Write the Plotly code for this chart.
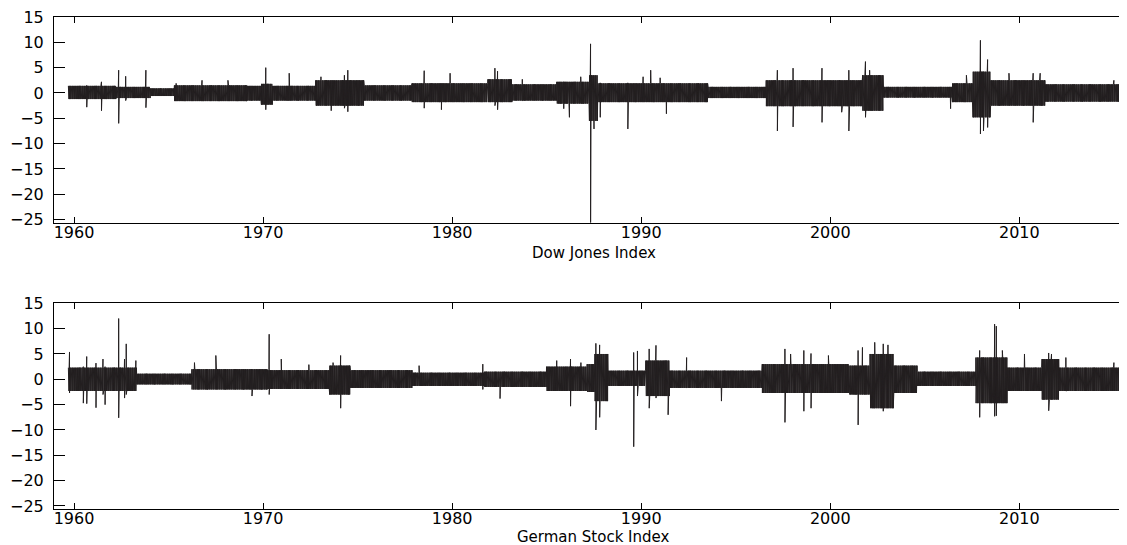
import numpy as np
import plotly.graph_objects as go

# ---------------- Data ----------------
# Dow Jones daily returns (%): band envelope per period (start year, upper, lower)
dj_seg_start = [1959.70, 1962.22, 1964.04, 1965.31, 1969.14, 1969.90, 1970.50, 1972.78,
                1975.33, 1977.88, 1981.89, 1983.17, 1985.53, 1987.25, 1987.69, 1993.52,
                1996.61, 2001.71, 2002.80, 2006.45, 2007.54, 2008.45, 2011.37]
dj_seg_hi = [1.4, 1.2, 0.9, 1.5, 1.4, 1.8, 1.4, 2.5,
             1.5, 1.9, 2.7, 1.7, 2.2, 3.5, 1.9, 1.2,
             2.5, 3.5, 1.2, 1.9, 4.2, 2.5, 1.7]
dj_seg_lo = [-1.2, -1.0, -0.6, -1.6, -1.5, -2.3, -1.5, -2.5,
             -1.5, -1.8, -1.8, -1.5, -2.1, -5.5, -1.8, -1.0,
             -2.6, -3.5, -0.9, -1.8, -4.8, -2.5, -1.7]
dj_end = 2015.40
# Dow Jones individual spikes (year, high, low)
dj_spike_t = [1960.67, 1961.45, 1962.36, 1962.73, 1963.80, 1965.40, 1966.77, 1968.14,
              1970.14, 1971.38, 1973.06, 1973.60, 1974.30, 1974.48, 1978.52, 1979.43,
              1979.89, 1982.26, 1982.40, 1983.71, 1985.90, 1986.20, 1986.80, 1987.32,
              1987.50, 1987.83, 1989.29, 1990.10, 1990.50, 1991.00, 1991.33, 1997.20,
              1998.03, 1999.56, 2000.60, 2000.98, 2001.86, 2002.08, 2002.60, 2006.36,
              2007.20, 2007.94, 2008.10, 2008.32, 2009.45, 2010.73, 2011.10, 2015.00]
dj_spike_hi = [1.5, 2.2, 4.5, 3.3, 4.5, 1.9, 2.5, 2.5,
               5.0, 3.9, 3.2, 2.0, 3.5, 4.5, 4.4, 1.8,
               3.9, 4.9, 4.3, 2.7, 2.0, 2.0, 3.2, 9.7,
               3.5, 2.0, 2.0, 3.2, 4.5, 3.0, 1.8, 4.5,
               4.9, 4.9, 2.5, 4.5, 6.2, 4.5, 3.5, 1.2,
               3.5, 10.4, 3.5, 6.6, 3.9, 3.9, 3.9, 2.5]
dj_spike_lo = [-2.8, -3.5, -6.0, -1.5, -2.9, -1.0, -1.6, -1.6,
               -3.3, -1.5, -2.5, -3.5, -3.0, -3.7, -3.0, -3.3,
               -1.8, -2.5, -3.3, -1.5, -3.1, -4.8, -2.1, -25.6,
               -7.1, -4.8, -7.1, -1.8, -1.8, -1.8, -4.1, -7.5,
               -6.7, -5.8, -3.8, -7.5, -4.8, -3.5, -3.5, -3.1,
               -1.8, -8.1, -7.5, -6.8, -2.5, -5.8, -2.5, -1.7]

# German stock index daily returns (%)
dax_seg_start = [1959.70, 1963.31, 1966.23, 1970.23, 1973.51, 1974.60, 1977.88, 1981.71,
                 1984.99, 1987.14, 1987.55, 1988.23, 1990.24, 1991.50, 1996.40, 2000.98,
                 2002.10, 2003.35, 2004.60, 2007.70, 2009.36, 2011.20, 2012.10]
dax_seg_hi = [2.3, 1.1, 2.0, 1.8, 2.7, 1.8, 1.3, 1.5,
              2.5, 3.0, 5.0, 1.7, 3.7, 1.7, 3.0, 2.7,
              5.0, 2.7, 1.5, 4.3, 2.3, 4.0, 2.3]
dax_seg_lo = [-2.3, -1.0, -2.0, -1.9, -3.0, -1.7, -1.3, -1.5,
              -2.3, -2.5, -4.3, -1.3, -3.3, -1.7, -2.7, -3.0,
              -5.7, -2.7, -1.3, -4.7, -2.3, -4.0, -2.3]
dax_end = 2015.35
dax_spike_t = [1959.76, 1960.49, 1960.67, 1961.16, 1961.53, 1961.64, 1962.36, 1962.67,
               1962.76, 1963.27, 1966.37, 1967.50, 1969.41, 1970.32, 1970.96, 1972.42,
               1973.70, 1974.10, 1978.25, 1981.62, 1982.53, 1985.53, 1986.26, 1986.81,
               1987.60, 1987.80, 1989.60, 1989.80, 1990.42, 1990.78, 1991.42, 1992.40,
               1994.24, 1997.60, 1997.90, 1998.60, 1998.98, 1999.90, 2001.47, 2001.70,
               2002.35, 2002.80, 2003.05, 2007.90, 2008.69, 2008.78, 2009.10, 2010.27,
               2011.55, 2011.70, 2012.46, 2015.00, 2015.30]
dax_spike_hi = [5.4, 2.5, 4.5, 3.2, 4.0, 2.5, 12.0, 4.0,
                7.0, 3.7, 3.3, 4.7, 2.0, 8.9, 4.0, 2.9,
                3.3, 4.7, 2.7, 3.0, 1.5, 3.7, 4.0, 3.3,
                7.1, 6.8, 5.3, 5.6, 6.0, 6.7, 1.7, 4.3,
                1.7, 6.0, 5.0, 5.7, 5.1, 4.7, 5.7, 6.3,
                7.3, 7.0, 6.8, 5.7, 10.9, 10.5, 5.7, 5.0,
                5.2, 5.0, 4.3, 3.3, 2.3]
dax_spike_lo = [-2.7, -4.7, -4.8, -5.6, -3.0, -5.0, -7.6, -3.7,
                -3.0, -2.3, -1.0, -2.0, -3.3, -3.0, -1.9, -1.9,
                -1.9, -5.7, -1.3, -2.0, -3.8, -2.3, -5.3, -2.3,
                -10.0, -7.5, -13.3, -3.3, -5.7, -3.7, -7.0, -1.7,
                -4.3, -8.5, -2.7, -6.3, -5.7, -2.7, -9.0, -3.0,
                -5.7, -6.3, -5.7, -7.5, -7.3, -7.2, -4.7, -2.3,
                -6.2, -4.0, -2.3, -2.3, -3.3]

y_ticks = [-25, -20, -15, -10, -5, 0, 5, 10, 15]
x_ticks = [1960, 1970, 1980, 1990, 2000, 2010]
x_tick_labels = ["1960", "1970", "1980", "1990", "2000", "2010"]
titles = ["Dow Jones Index", "German Stock Index"]


def build(seg_start, seg_hi, seg_lo, end, spk_t, spk_hi, spk_lo, step=0.01):
    pts = []
    n = len(seg_start)
    for i in range(n):
        a = seg_start[i]
        b = seg_start[i + 1] if i + 1 < n else end
        ts = np.arange(a, b, step)
        for k, tt in enumerate(ts):
            pts.append((tt, seg_hi[i] if k % 2 == 0 else seg_lo[i]))
    for tt, h, l in zip(spk_t, spk_hi, spk_lo):
        pts.append((tt, h))
        pts.append((tt + 0.002, l))
    pts.sort(key=lambda p: p[0])
    return [p[0] for p in pts], [p[1] for p in pts]


dj_t, dj_v = build(dj_seg_start, dj_seg_hi, dj_seg_lo, dj_end, dj_spike_t, dj_spike_hi, dj_spike_lo)
dax_t, dax_v = build(dax_seg_start, dax_seg_hi, dax_seg_lo, dax_end, dax_spike_t, dax_spike_hi, dax_spike_lo)

LINE = "#231f20"
FONT = dict(family="DejaVu Sans", size=16, color="black")
TFONT = dict(family="DejaVu Sans", size=15, color="black")
XR = [1958.94, 2015.27]
YR = [-25.6, 15]

fig = go.Figure()
fig.add_trace(go.Scatter(x=dj_t, y=dj_v, mode="lines", line=dict(color=LINE, width=1),
                         xaxis="x", yaxis="y", showlegend=False, hoverinfo="skip"))
fig.add_trace(go.Scatter(x=dax_t, y=dax_v, mode="lines", line=dict(color=LINE, width=1),
                         xaxis="x2", yaxis="y2", showlegend=False, hoverinfo="skip"))

xcommon = dict(range=XR, tickvals=x_ticks, ticktext=x_tick_labels, ticks="inside", ticklen=6,
               tickcolor="black", showline=True, linecolor="black", linewidth=1, mirror="ticks",
               showgrid=False, zeroline=False, tickfont=FONT, ticklabelstandoff=-5,
               fixedrange=True)
ycommon = dict(range=YR, tickvals=y_ticks, ticks="inside", ticklen=11, tickcolor="black",
               showline=True, linecolor="black", linewidth=1, showgrid=False, zeroline=False,
               tickfont=FONT, ticklabelstandoff=6, ticklabeloverflow="allow", fixedrange=True)
yright = dict(range=YR, tickvals=y_ticks, ticks="inside", ticklen=5, tickcolor="black",
              showline=False, showgrid=False, zeroline=False, showticklabels=False,
              side="right", fixedrange=True)

fig.update_layout(
    width=1111, height=545,
    margin=dict(l=46, r=0, t=9, b=44),
    paper_bgcolor="white", plot_bgcolor="white",
    xaxis=dict(domain=[0, 1], anchor="y", **xcommon),
    yaxis=dict(domain=[0.582, 1.0], anchor="x", **ycommon),
    xaxis2=dict(domain=[0, 1], anchor="y2", **xcommon),
    yaxis2=dict(domain=[0.0, 0.418], anchor="x2", **ycommon),
    yaxis3=dict(overlaying="y", anchor="x", **yright),
    yaxis4=dict(overlaying="y2", anchor="x2", **yright),
    annotations=[
        dict(text=titles[0], x=1987.5, xref="x", y=0.5204, yref="paper", showarrow=False,
             xanchor="center", yanchor="middle", font=TFONT),
        dict(text=titles[1], x=1987.5, xref="x2", y=-0.056, yref="paper", showarrow=False,
             xanchor="center", yanchor="middle", font=TFONT),
    ],
)

fig.write_html("out.html")
